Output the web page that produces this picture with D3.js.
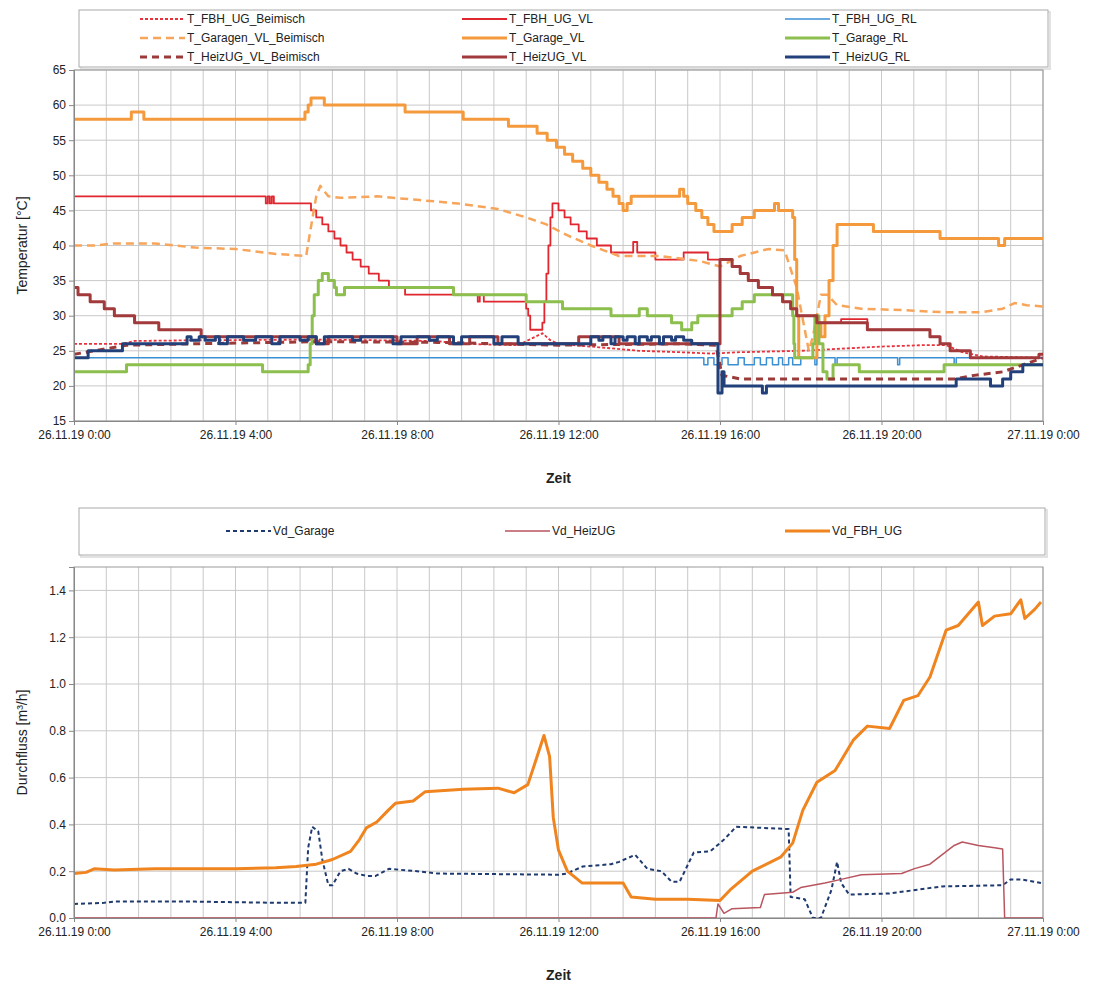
<!DOCTYPE html>
<html>
<head>
<meta charset="utf-8">
<script src="https://cdn.jsdelivr.net/npm/d3@7"></script>
<style>
  body { margin: 0; background: #fff; }
  text { font-family: "Liberation Sans", Arial, sans-serif; fill: #222; }
</style>
</head>
<body>
<svg id="chart" width="1094" height="983"></svg>
<script>
// ---------------- data (hour of 26.11.19, value) ----------------
const xTickHours = [0, 4, 8, 12, 16, 20, 24];
const tempTicks = [15, 20, 25, 30, 35, 40, 45, 50, 55, 60, 65];
const flowTicks = [0, 0.2, 0.4, 0.6, 0.8, 1.0, 1.2, 1.4];

const tFbhBeimisch = [[0,26],[1.2,26],[1.5,26.4],[3,26.5],[6,26.6],[9,26.4],[9.5,26],[11,25.8],[11.6,27.5],[11.8,26.5],[12,26],[13,25.5],[14,25],[15,24.8],[15.8,24.6],[16.5,24.8],[18,25],[19,25.3],[20,25.6],[21,25.8],[21.6,25.8],[22,24.8],[22.5,24.2],[24,24]];
const tFbhVL = [[0,47],[4.75,46],[4.8,47],[4.85,46],[4.9,47],[4.95,46],[5.87,45],[6.0,44],[6.15,43],[6.3,42],[6.45,41],[6.6,40],[6.75,39],[6.9,38],[7.1,37],[7.3,36],[7.55,35],[7.8,34],[8.2,33],[10.0,32],[10.05,33],[10.15,32],[11.2,31],[11.25,30],[11.3,28],[11.6,29],[11.65,32],[11.7,36],[11.75,40],[11.8,44],[11.85,46],[12.0,45],[12.15,44],[12.3,43],[12.5,42],[12.7,41],[12.95,40],[13.3,39],[13.85,40.5],[13.95,39],[14.4,38],[15.1,39],[15.7,38],[16.3,37],[16.5,36],[16.7,35],[16.95,34],[17.3,33],[17.55,32],[17.75,31],[17.9,30],[18.4,29],[19.0,29.5],[19.65,28],[21.2,27],[21.45,26],[21.7,25],[22.2,24],[24,24]];
const tFbhRL = [[0,24],[15.6,23],[15.7,24],[15.85,23],[16.05,24],[16.2,23],[16.45,24],[16.6,23],[16.85,24],[17.0,23],[17.15,24],[17.3,23],[17.45,24],[17.55,23],[17.7,24],[17.8,23],[18.0,24],[18.35,23],[18.4,24],[18.85,23],[18.9,24],[20.4,23],[20.45,24],[21.8,23],[21.85,24],[24,24]];
const tGarBeimisch = [[0,40],[0.5,40],[1,40.3],[2,40.3],[3,39.7],[4,39.5],[5,38.8],[5.75,38.5],[5.85,42],[6.0,47],[6.1,48.5],[6.3,47],[6.6,46.8],[7.5,47],[8.5,46.5],[9.5,46],[10.5,45.2],[11.2,44],[11.7,43],[12.2,41.5],[12.8,40],[13.5,38.5],[14.5,38.5],[15.5,37.8],[16.0,37],[16.5,38.5],[17.2,39.5],[17.6,39.3],[17.9,34],[18.1,28],[18.2,25],[18.3,27],[18.5,33],[18.65,33],[18.9,31.5],[19.5,31],[20.5,30.8],[21.5,30.5],[22.5,30.5],[23.0,31],[23.3,31.8],[23.6,31.5],[24,31.3]];
const tGarVL = [[0,58],[1.42,59],[1.73,58],[5.72,59],[5.8,60],[5.87,61],[6.2,60],[8.2,59],[9.64,58],[10.76,57],[11.47,56],[11.72,55],[11.95,54],[12.15,53],[12.35,52],[12.6,51],[12.8,50],[13.0,49],[13.2,48],[13.35,47],[13.5,46],[13.6,45],[13.7,46],[13.8,47],[15.0,48],[15.1,47],[15.2,46],[15.4,45],[15.55,44],[15.7,43],[15.85,42],[16.3,43],[16.55,44],[16.85,45],[17.35,46],[17.45,45],[17.8,44],[17.85,38],[17.9,30],[17.95,24],[18.3,24],[18.4,29],[18.5,27],[18.6,30],[18.7,35],[18.8,40],[18.9,43],[19.8,42],[21.45,41],[22.9,40],[23.05,41],[24,41]];
const tGarRL = [[0,22],[1.3,23],[4.67,22],[5.8,23],[5.85,26],[5.9,30],[5.95,33],[6.05,35],[6.15,36],[6.3,35],[6.45,34],[6.5,33],[6.7,34],[9.4,33],[11.2,32],[12.1,31],[13.3,30],[14.0,31],[14.2,30],[14.8,29],[15.05,28],[15.3,29],[15.45,30],[16.3,31],[16.55,32],[16.85,33],[17.8,30],[17.83,26],[17.85,24],[18.3,26],[18.35,30],[18.45,26],[18.55,22],[18.65,21],[18.8,23],[19.45,22],[21.55,23],[24,23]];
const tHeizBeimisch = [[0,24.5],[0.5,25],[1.3,25.8],[3,26],[6,26.3],[9,26.2],[12,25.8],[15,26],[15.9,25.8],[16.05,21.5],[16.5,21],[18,21],[20,21],[21.8,21],[22.3,21.5],[23,22],[23.5,23],[24,24]];
const tHeizVL = [[0,34],[0.1,33],[0.4,32],[0.75,31],[1.0,30],[1.5,29],[2.1,28],[3.15,27],[6.0,26],[6.3,27],[8.0,26],[8.5,27],[9.3,26],[9.8,27],[10.5,26],[12.5,27],[13.5,26],[15.95,26],[16.0,38],[16.3,37],[16.5,36],[16.7,35],[16.95,34],[17.3,33],[17.55,32],[17.75,31],[17.9,30],[18.4,29],[19.65,28],[21.2,27],[21.45,26],[21.7,25],[22.2,24],[23.9,24.5],[24,24.5]];
const tHeizRL = [[0,24],[0.35,25],[1.2,26],[2.8,27],[2.9,26.5],[3.1,27],[3.25,26.5],[3.5,27],[3.6,26],[3.8,27],[4.2,26.5],[4.5,27],[4.9,26],[5.1,27],[5.6,26.5],[5.8,27],[6,26],[6.2,27],[6.9,26.5],[7.1,27],[7.9,26],[8.1,27],[8.8,26.5],[9.0,27],[9.4,26],[9.6,27],[10.4,26],[10.6,27],[11.0,26],[12.8,27],[13,26.5],[13.1,27],[13.3,26],[13.4,27],[13.6,26.5],[13.7,27],[13.9,26],[14,27],[14.2,26.5],[14.3,27],[14.5,26],[14.6,27],[14.8,26.5],[14.9,27],[15.1,26.5],[15.3,26],[15.95,19],[16.05,22],[16.1,20],[17.05,19],[17.15,20],[21.85,21],[22.7,20],[23.0,21],[23.2,22],[23.5,23],[24,23]];

const vdGarage = [[0,0.06],[0.75,0.065],[1,0.07],[3,0.07],[5,0.065],[5.73,0.065],[5.8,0.3],[5.9,0.39],[6.05,0.37],[6.15,0.25],[6.3,0.14],[6.4,0.14],[6.6,0.2],[6.8,0.21],[7.0,0.19],[7.24,0.18],[7.47,0.18],[7.8,0.21],[8.5,0.2],[9,0.19],[12.0,0.185],[12.2,0.19],[12.6,0.22],[13.3,0.23],[13.5,0.24],[13.9,0.27],[14.2,0.21],[14.55,0.2],[14.8,0.155],[15.0,0.155],[15.35,0.28],[15.76,0.285],[16.1,0.335],[16.4,0.39],[17.7,0.38],[17.75,0.09],[18.1,0.08],[18.3,0.0],[18.5,0.0],[18.76,0.12],[18.9,0.24],[19.0,0.15],[19.2,0.1],[20.2,0.105],[21.5,0.135],[23.0,0.14],[23.2,0.165],[23.45,0.165],[23.95,0.15]];
const vdHeiz = [[0,0],[15.9,0],[15.95,0.06],[16.1,0.02],[16.3,0.04],[17.0,0.045],[17.1,0.1],[17.8,0.11],[18.0,0.13],[18.6,0.15],[19.0,0.165],[19.5,0.185],[20.5,0.19],[20.8,0.21],[21.2,0.23],[21.8,0.31],[22.0,0.325],[22.4,0.31],[22.8,0.3],[23.0,0.295],[23.05,0],[24,0]];
const vdFbh = [[0,0.19],[0.3,0.195],[0.5,0.21],[1,0.205],[2,0.21],[3,0.21],[4,0.21],[5,0.215],[5.5,0.22],[6,0.23],[6.4,0.25],[6.85,0.285],[7.07,0.335],[7.24,0.385],[7.5,0.41],[7.78,0.46],[7.96,0.49],[8.4,0.5],[8.7,0.54],[9.64,0.55],[10.5,0.555],[10.9,0.535],[11.24,0.57],[11.47,0.69],[11.64,0.78],[11.78,0.69],[11.87,0.43],[12.0,0.29],[12.22,0.2],[12.58,0.15],[13.0,0.15],[13.6,0.15],[13.8,0.09],[14.4,0.08],[15.2,0.08],[16.0,0.075],[16.25,0.12],[16.8,0.2],[17.5,0.26],[17.8,0.32],[18.05,0.46],[18.4,0.58],[18.85,0.63],[19.3,0.76],[19.65,0.82],[20.2,0.81],[20.55,0.93],[20.9,0.95],[21.2,1.03],[21.6,1.23],[21.9,1.25],[22.4,1.35],[22.5,1.25],[22.8,1.29],[23.2,1.3],[23.45,1.36],[23.55,1.28],[23.8,1.32],[23.95,1.35]];

// ---------------- series styles ----------------
const tempSeries = [
  { name: "T_FBH_UG_Beimisch", data: tFbhBeimisch, color: "#e8323c", width: 1.8, dash: "3,2", step: false },
  { name: "T_FBH_UG_VL", data: tFbhVL, color: "#e0262e", width: 1.8, dash: null, step: true },
  { name: "T_FBH_UG_RL", data: tFbhRL, color: "#3b8fd4", width: 1.5, dash: null, step: true },
  { name: "T_Garagen_VL_Beimisch", data: tGarBeimisch, color: "#f7a55a", width: 2.5, dash: "8,5", step: false },
  { name: "T_Garage_VL", data: tGarVL, color: "#f59a3c", width: 3, dash: null, step: true },
  { name: "T_Garage_RL", data: tGarRL, color: "#8dbf4f", width: 3, dash: null, step: true },
  { name: "T_HeizUG_VL_Beimisch", data: tHeizBeimisch, color: "#9c3a3a", width: 3, dash: "7,5", step: false },
  { name: "T_HeizUG_VL", data: tHeizVL, color: "#a23a3c", width: 3, dash: null, step: true },
  { name: "T_HeizUG_RL", data: tHeizRL, color: "#22407a", width: 3, dash: null, step: true }
];
const flowSeries = [
  { name: "Vd_Garage", data: vdGarage, color: "#1e3a6e", width: 2, dash: "4,3", step: false },
  { name: "Vd_HeizUG", data: vdHeiz, color: "#b9555f", width: 1.5, dash: null, step: false },
  { name: "Vd_FBH_UG", data: vdFbh, color: "#f0841f", width: 3, dash: null, step: false }
];

const svg = d3.select("#chart");
const base = new Date(2019, 10, 26);
const toDate = h => new Date(base.getTime() + h * 3600e3);
const fmt = d3.timeFormat("%d.%m.%y %-H:%M");

const left = 74, right = 1043;
const x = d3.scaleTime().domain([toDate(0), toDate(24)]).range([left, right]);
const gridHours = d3.range(0, 24.01, 0.8);

//-------------------------
function legendBox(x0, y0, w, h) {
  svg.append("rect").attr("x", x0 + 2).attr("y", y0 + 2).attr("width", w).attr("height", h)
    .attr("fill", "none").attr("stroke", "#e2e2e2").attr("stroke-width", 2);
  svg.append("rect").attr("x", x0).attr("y", y0).attr("width", w).attr("height", h)
    .attr("fill", "#fff").attr("stroke", "#aaa");
}

function legendItem(s, x1, y) {
  svg.append("line").attr("x1", x1).attr("x2", x1 + 45).attr("y1", y).attr("y2", y)
    .attr("stroke", s.color).attr("stroke-width", s.width)
    .attr("stroke-dasharray", s.dash);
  svg.append("text").attr("x", x1 + 47).attr("y", y + 4).attr("font-size", 12).text(s.name);
}

//-------------------------
function panel(cfg) {
  const y = d3.scaleLinear().domain(cfg.domain).range([cfg.bottom, cfg.top]);
  const g = svg.append("g");
  const id = "clip" + cfg.top;

  g.append("clipPath").attr("id", id).append("rect")
    .attr("x", left).attr("y", cfg.top).attr("width", right - left).attr("height", cfg.bottom - cfg.top);

  // grid
  g.selectAll(".vg").data(gridHours).enter().append("line")
    .attr("x1", d => x(toDate(d))).attr("x2", d => x(toDate(d)))
    .attr("y1", cfg.top).attr("y2", cfg.bottom)
    .attr("stroke", "#c9c9c9").attr("stroke-width", 1);
  g.selectAll(".hg").data(cfg.ticks).enter().append("line")
    .attr("x1", left).attr("x2", right)
    .attr("y1", d => y(d)).attr("y2", d => y(d))
    .attr("stroke", "#c9c9c9").attr("stroke-width", 1);
  g.append("rect").attr("x", left).attr("y", cfg.top).attr("width", right - left)
    .attr("height", cfg.bottom - cfg.top).attr("fill", "none").attr("stroke", "#999");

  // lines
  cfg.series.forEach(s => {
    const line = d3.line()
      .x(d => x(toDate(d[0])))
      .y(d => y(d[1]))
      .curve(s.step ? d3.curveStepAfter : d3.curveLinear);
    g.append("path").datum(s.data)
      .attr("clip-path", "url(#" + id + ")")
      .attr("d", line).attr("fill", "none")
      .attr("stroke", s.color).attr("stroke-width", s.width)
      .attr("stroke-dasharray", s.dash)
      .attr("stroke-linejoin", "round");
  });

  // axes
  const ax = g.append("g").attr("transform", "translate(0," + cfg.bottom + ")")
    .call(d3.axisBottom(x).tickValues(xTickHours.map(toDate)).tickFormat(fmt).tickSize(4).tickPadding(5));
  const ay = g.append("g").attr("transform", "translate(" + left + ",0)")
    .call(d3.axisLeft(y).tickValues(cfg.ticks).tickFormat(cfg.tickFormat).tickSize(5).tickPadding(3));
  [ax, ay].forEach(a => {
    a.select(".domain").attr("stroke", "#888");
    a.selectAll(".tick line").attr("stroke", "#888");
    a.selectAll("text").attr("font-size", 12).attr("fill", "#333")
      .style("font-family", "'Liberation Sans', Arial, sans-serif");
  });

  svg.append("text").attr("x", (left + right) / 2).attr("y", cfg.bottom + 62)
    .attr("text-anchor", "middle").attr("font-size", 14).attr("font-weight", "bold").text("Zeit");
  svg.append("text")
    .attr("transform", "translate(27," + (cfg.top + cfg.bottom) / 2 + ") rotate(-90)")
    .attr("text-anchor", "middle").attr("font-size", 14).text(cfg.title);
}

//------------- top panel
legendBox(79, 10, 969, 57);
const colsTop = [140, 462, 785], rowsTop = [19, 38, 57];
tempSeries.forEach((s, i) => legendItem(s, colsTop[i % 3], rowsTop[Math.floor(i / 3)]));

panel({ top: 70, bottom: 421, domain: [15, 65], ticks: tempTicks, tickFormat: d3.format("d"),
  series: tempSeries, title: "Temperatur [°C]" });

//------------- bottom panel
legendBox(79, 508, 966, 47);
const colsBot = [226, 505, 785];
flowSeries.forEach((s, i) => legendItem(s, colsBot[i], 531));

panel({ top: 567, bottom: 918, domain: [0, 1.5], ticks: flowTicks, tickFormat: d3.format(".1f"),
  series: flowSeries, title: "Durchfluss  [m³/h]" });
</script>
</body>
</html>
